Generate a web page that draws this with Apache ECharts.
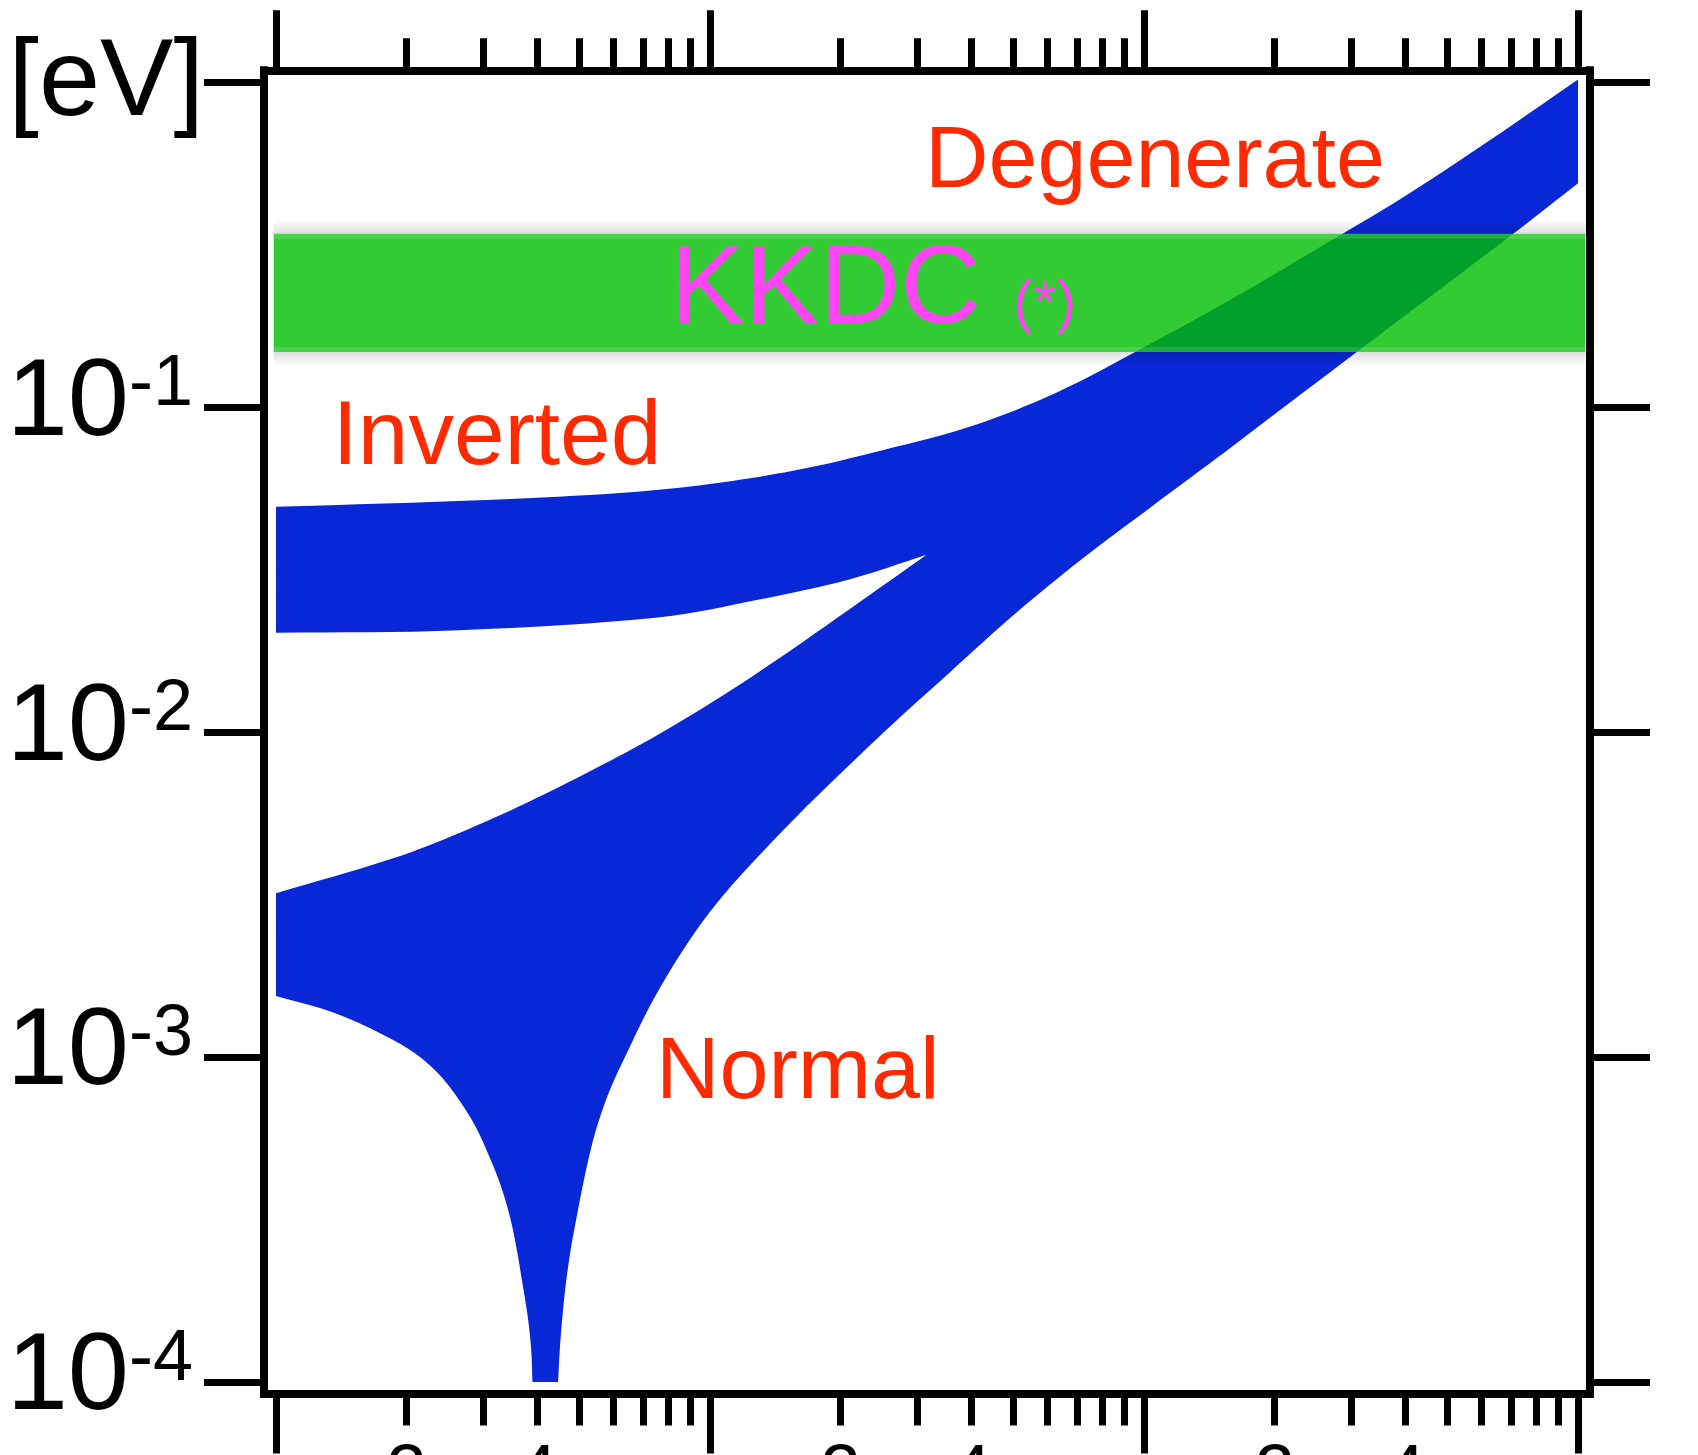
<!DOCTYPE html>
<html>
<head>
<meta charset="utf-8">
<style>
  html, body { margin: 0; padding: 0; background: #ffffff; }
  #chart { width: 1698px; height: 1455px; }
</style>
<script src="https://cdn.jsdelivr.net/npm/echarts@6/dist/echarts.min.js"></script>
</head>
<body>
<div id="chart"></div>
<script>
// Effective Majorana mass vs. lightest neutrino mass, both in eV.
// Each boundary is a list of [m_lightest, m_bb] pairs.

// Inverted ordering, upper edge
const invertedUpper = [
  [0.001, 0.04943], [0.003162, 0.0520], [0.00631, 0.05458], [0.01, 0.05808],
  [0.01585, 0.06412], [0.02512, 0.07396], [0.03981, 0.0873], [0.0631, 0.1114],
  [0.1, 0.1531], [0.1585, 0.2148], [0.2512, 0.3083], [0.3981, 0.4457],
  [0.631, 0.6683], [1.0, 1.021]
];

// Inverted ordering, lower edge up to where it joins the normal band
const invertedLower = [
  [0.001, 0.02023], [0.002655, 0.02061], [0.007674, 0.02259],
  [0.01271, 0.02547], [0.02104, 0.02958], [0.03155, 0.03516]
];

// Normal ordering, upper edge up to the junction
const normalUpper = [
  [0.001, 0.003192], [0.001862, 0.004093], [0.002655, 0.004909], [0.003784, 0.006067],
  [0.005383, 0.007674], [0.007674, 0.009908], [0.01271, 0.01507], [0.02104, 0.02399],
  [0.03155, 0.03516]
];

// Normal ordering, lower edge: falling into the cancellation dip (cut at 1e-4 eV) ...
const normalLowerFall = [
  [0.001, 0.001542], [0.00138, 0.001361], [0.001862, 0.00113], [0.002173, 0.000988],
  [0.002472, 0.000832], [0.002825, 0.000641], [0.003055, 0.000518], [0.003281, 0.000409],
  [0.003459, 0.000323], [0.003589, 0.000255], [0.003698, 0.000201], [0.003802, 0.000159],
  [0.003873, 0.000126], [0.003899, 0.0001]
];
// ... and rising out of it towards the degenerate region
const normalLowerRise = [
  [0.004467, 0.0001], [0.004508, 0.000126], [0.004571, 0.000159],
  [0.004656, 0.000201], [0.004775, 0.000255], [0.004932, 0.000323], [0.005105, 0.000409],
  [0.005309, 0.000518], [0.005534, 0.000632], [0.005888, 0.000796], [0.006427, 0.001026],
  [0.007145, 0.001374], [0.007943, 0.00177], [0.00867, 0.002138], [0.00996, 0.00278],
  [0.01172, 0.003606], [0.01611, 0.005636], [0.02218, 0.008531], [0.02838, 0.01161],
  [0.03573, 0.01531], [0.05093, 0.02339], [0.07244, 0.03436], [0.1033, 0.04909],
  [0.1469, 0.06966], [0.1754, 0.08337], [0.3097, 0.1483], [0.7129, 0.3443], [1.0, 0.4898]
];

// KKDC claim: horizontal band of m_bb
const kkdcMass = [0.000988, 1.04];
const kkdcRange = [0.148, 0.342];

// Tick definitions
const yTickExponents = [-4, -3, -2, -1, 0];
const yUnitLabel = '[eV]';
const xDecades = [-3, -2, -1, 0];
const xMinorMultipliers = [2, 3, 4, 5, 6, 7, 8, 9];
const xMinorLabels = ['2', '4'];

const BLUE = '#0827d7';
const RED = '#ff2a00';
const MAGENTA = '#ff44f6';
const TEXT_FONT = '"Liberation Sans", Arial, Helvetica, sans-serif';
const TICK_FONT = '"Liberation Sans", Arial, sans-serif';

// Axis extents in log10 units (the frame sits slightly outside the outer decades)
const X_MIN = -3.0276, X_MAX = 0.0276;
const Y_MIN = -4.0354, Y_MAX = 0.0375;

const lg = Math.log10;
const toLog = p => [lg(p[0]), lg(p[1])];
const rev = a => a.slice().reverse();

// Edges of the union of both bands, walked once around:
// inverted top, normal bottom (backwards, incl. the dip floor), normal top, inverted bottom (backwards).
const bandEdges = [
  invertedUpper,
  rev(normalLowerRise),
  rev(normalLowerFall),
  normalUpper,
  rev(invertedLower)
].map(edge => edge.map(toLog));

// Each edge is drawn as a smooth curve; repeating its end points keeps the joints sharp.
function outlinePixels(api) {
  const pts = [];
  bandEdges.forEach(edge => {
    const px = edge.map(p => api.coord(p));
    pts.push(px[0]);
    px.forEach(p => pts.push(p));
    pts.push(px[px.length - 1]);
  });
  return pts;
}

const minorTickPos = [];
xDecades.slice(0, -1).forEach(d => xMinorMultipliers.forEach(k => minorTickPos.push(d + lg(k))));
const minorLabelPos = [];
xDecades.slice(0, -1).forEach(d => xMinorLabels.forEach(t => minorLabelPos.push(d + lg(Number(t)))));

const chart = echarts.init(document.getElementById('chart'), null, { renderer: 'canvas' });

const lineStyle = { color: '#000', width: 8, cap: 'square' };
const tickStyle = { color: '#000', width: 7 };

function xAxisDef(position, ticks, len, withLine, labels) {
  return {
    type: 'value', position, min: X_MIN, max: X_MAX, z: 10,
    splitLine: { show: false },
    axisLine: { show: withLine, onZero: false, lineStyle },
    axisTick: { show: true, inside: false, length: len, customValues: ticks, lineStyle: tickStyle },
    axisLabel: labels || { show: false }
  };
}

const minorLabelStyle = {
  show: true,
  customValues: minorLabelPos,
  margin: 46,
  fontSize: 72,
  lineHeight: 72,
  fontFamily: TICK_FONT,
  color: '#000',
  formatter: v => String(Math.round(Math.pow(10, v - Math.floor(v))))
};

const option = {
  animation: false,
  backgroundColor: '#ffffff',
  grid: {
    left: 264, right: 108, top: 70.3, bottom: 61.5,
    containLabel: false, outerBoundsMode: 'none'
  },
  xAxis: [
    xAxisDef('bottom', xDecades, 60, true),
    xAxisDef('bottom', minorTickPos, 32, false, minorLabelStyle),
    xAxisDef('top', xDecades, 60, true),
    xAxisDef('top', minorTickPos, 32, false)
  ],
  yAxis: [
    {
      type: 'value', position: 'left', min: Y_MIN, max: Y_MAX, z: 10,
      splitLine: { show: false },
      axisLine: { show: true, onZero: false, lineStyle },
      axisTick: { show: true, length: 60, customValues: yTickExponents, lineStyle: tickStyle },
      axisLabel: {
        show: true,
        customValues: yTickExponents,
        margin: 60,
        padding: [0, 0, 6, 0],
        formatter: v => (v === 0 ? '{u|' + yUnitLabel + '}' : '{m|10}{s|' + v + '}'),
        rich: {
          m: { fontSize: 110, lineHeight: 110, fontFamily: TICK_FONT, color: '#000' },
          s: { fontSize: 72, lineHeight: 64, verticalAlign: 'top', fontFamily: TICK_FONT, color: '#000', padding: [0, 11, 0, 0] },
          u: { fontSize: 110, lineHeight: 110, fontFamily: TICK_FONT, color: '#000', padding: [10, 0, 0, 0] }
        }
      }
    },
    {
      type: 'value', position: 'right', min: Y_MIN, max: Y_MAX, z: 10,
      splitLine: { show: false },
      axisLine: { show: true, onZero: false, lineStyle },
      axisTick: { show: true, length: 60, customValues: yTickExponents, lineStyle: tickStyle },
      axisLabel: { show: false }
    }
  ],
  series: [
    {
      name: 'bands',
      type: 'custom',
      coordinateSystem: 'cartesian2d',
      xAxisIndex: 0, yAxisIndex: 0,
      silent: true,
      data: [bandEdges[0][0]],
      renderItem: (params, api) => ({
        type: 'polygon',
        shape: { points: outlinePixels(api), smooth: 0.35 },
        style: { fill: BLUE, stroke: null }
      })
    },
    {
      name: 'KKDC',
      type: 'custom',
      coordinateSystem: 'cartesian2d',
      xAxisIndex: 0, yAxisIndex: 0,
      silent: true,
      z: 3,
      data: [[lg(kkdcMass[0]), lg(kkdcRange[1])]],
      renderItem: (params, api) => {
        const a = api.coord([lg(kkdcMass[0]), lg(kkdcRange[1])]);
        const b = api.coord([lg(kkdcMass[1]), lg(kkdcRange[0])]);
        const x = a[0], y = a[1], w = b[0] - a[0], h = b[1] - a[1];
        const fade = 14;
        return {
          type: 'group',
          children: [
            {
              type: 'rect',
              shape: { x: x, y: y - fade, width: w, height: fade },
              style: {
                fill: new echarts.graphic.LinearGradient(0, 0, 0, 1, [
                  { offset: 0, color: 'rgba(0,0,0,0)' },
                  { offset: 1, color: 'rgba(0,0,0,0.13)' }
                ])
              }
            },
            {
              type: 'rect',
              shape: { x: x, y: y + h, width: w, height: fade },
              style: {
                fill: new echarts.graphic.LinearGradient(0, 0, 0, 1, [
                  { offset: 0, color: 'rgba(0,0,0,0.13)' },
                  { offset: 1, color: 'rgba(0,0,0,0)' }
                ])
              }
            },
            {
              type: 'rect',
              shape: { x: x, y: y, width: w, height: h },
              style: { fill: 'rgba(0,190,0,0.8)' }
            },
            {
              type: 'rect',
              shape: { x: x, y: y, width: w, height: 5 },
              style: { fill: 'rgba(255,255,255,0.12)' }
            },
            {
              type: 'rect',
              shape: { x: x, y: y + h - 5, width: w, height: 5 },
              style: { fill: 'rgba(255,255,255,0.12)' }
            }
          ]
        };
      }
    }
  ],
  graphic: [
    { type: 'text', x: 925, y: 162.7, z: 20, silent: true,
      style: { text: 'Degenerate', font: '88px ' + TEXT_FONT, fill: RED, align: 'left', verticalAlign: 'middle' } },
    { type: 'text', x: 332.5, y: 438.5, z: 20, silent: true,
      style: { text: 'Inverted', font: '91px ' + TEXT_FONT, fill: RED, align: 'left', verticalAlign: 'middle' } },
    { type: 'text', x: 656, y: 1074, z: 20, silent: true,
      style: { text: 'Normal', font: '88px ' + TEXT_FONT, fill: RED, align: 'left', verticalAlign: 'middle' } },
    { type: 'text', x: 670, y: 292, z: 20, silent: true,
      style: { text: 'KKDC', font: '112px ' + TEXT_FONT, fill: MAGENTA, align: 'left', verticalAlign: 'middle' } },
    { type: 'text', x: 1013, y: 305.4, z: 20, silent: true,
      style: { text: '(*)', font: '60px ' + TEXT_FONT, fill: MAGENTA, align: 'left', verticalAlign: 'middle' } }
  ]
};

chart.setOption(option);
</script>
</body>
</html>
